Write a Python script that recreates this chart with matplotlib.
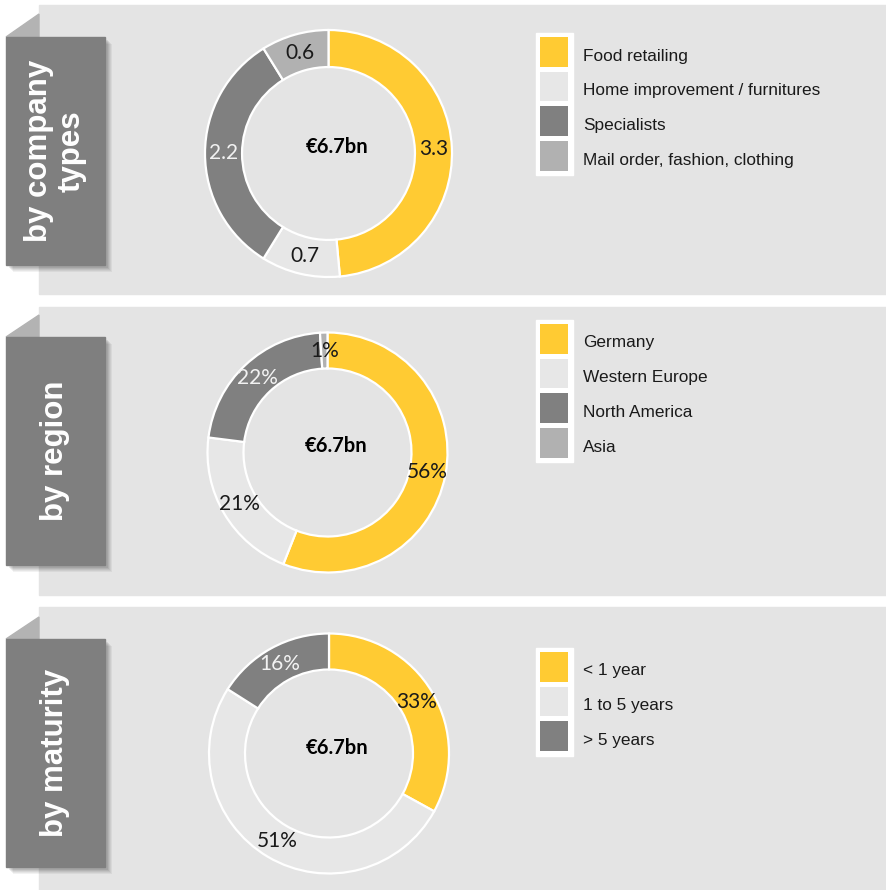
import numpy as np
import matplotlib.pyplot as plt
from matplotlib.patches import Rectangle, Polygon

# data
titles = ['by company\ntypes', 'by region', 'by maturity']
center_text = '€6.7bn'

company_labels = ['Food retailing', 'Home improvement / furnitures', 'Specialists', 'Mail order, fashion, clothing']
company_values = [3.3, 0.7, 2.2, 0.6]

region_labels = ['Germany', 'Western Europe', 'North America', 'Asia']
region_values = [56, 21, 22, 1]

maturity_labels = ['< 1 year', '1 to 5 years', '> 5 years']
maturity_values = [33, 51, 16]

YELLOW = '#FFCB33'
LIGHT = '#E7E7E7'
DARK = '#808080'
MID = '#B1B1B1'
BG = '#E4E4E4'
seg_colors = [YELLOW, LIGHT, DARK, MID]
txt_colors = ['#1a1a1a', '#1a1a1a', '#F2F2F2', '#1a1a1a']

W, H = 887, 890
fig = plt.figure(figsize=(W / 100, H / 100), dpi=100)
fig.patch.set_facecolor('white')
bg = fig.add_axes([0, 0, 1, 1])
bg.set_xlim(0, W)
bg.set_ylim(H, 0)
bg.axis('off')

# (panel top, panel bottom, box top, box bottom, fold top)
panels = [(5, 294, 37, 265, 14), (307, 595, 337, 565, 315), (607, 890, 639, 867, 617)]
donuts = [(328.5, 153.5, 123.5), (327.5, 452.5, 120), (329, 753.5, 120)]
legends = [(33, 4), (320, 4), (648, 3)]


def make_fmt(vals, pct):
    total = sum(vals)
    if pct:
        return lambda p: f'{p:.0f}%'
    return lambda p: f'{p * total / 100:.1f}'


datasets = [(company_labels, company_values, False),
            (region_labels, region_values, True),
            (maturity_labels, maturity_values, True)]

for i, (pt, pb, bt, bb, ft) in enumerate(panels):
    bg.add_patch(Rectangle((39, pt), W - 39, pb - pt, color=BG, zorder=0))
    # fold triangle
    bg.add_patch(Polygon([(6, bt), (39, ft), (39, bt)], closed=True, color='#B3B3B3', zorder=1))
    # soft shadow
    for k, a in enumerate([0.05, 0.05, 0.06, 0.07, 0.08]):
        off = 7 - k
        bg.add_patch(Rectangle((6 + off, bt + off), 99, bb - bt, color='black',
                               alpha=a, lw=0, zorder=1))
    bg.add_patch(Rectangle((6, bt), 99, bb - bt, color='#7F7F7F', zorder=2))
    bg.text(55.5, (bt + bb) / 2, titles[i], rotation=90, ha='center', va='center',
            color='white', fontsize=22.5, fontweight='bold', family='Liberation Sans',
            linespacing=1.1, zorder=3)

    labels, vals, pct = datasets[i]
    n = len(vals)
    # legend
    ly, nl = legends[i]
    step = 34.7
    bg.add_patch(Rectangle((536, ly), 37, step * nl + 3.5, color='white', zorder=1))
    for j in range(nl):
        y0 = ly + 4 + j * step
        bg.add_patch(Rectangle((540, y0), 28, 29.5, color=seg_colors[j], lw=0, zorder=2))
        bg.text(583, y0 + 19, labels[j], ha='left', va='center', fontsize=12.4,
                family='Liberation Sans', color='#1a1a1a', zorder=3)

    # donut
    cx, cy, R = donuts[i]
    pad = 1.05
    ax = fig.add_axes([(cx - R * pad) / W, (H - cy - R * pad) / H, 2 * R * pad / W, 2 * R * pad / H])
    ax.set_facecolor('none')
    wedges, texts, autotexts = ax.pie(vals, colors=seg_colors[:n], startangle=90, counterclock=False,
                                      radius=1, pctdistance=0.85, autopct=make_fmt(vals, pct),
                                      wedgeprops=dict(width=0.30, edgecolor='white', linewidth=1.6),
                                      textprops=dict(fontsize=15, family='Lato'))
    for j, t in enumerate(autotexts):
        t.set_color(txt_colors[j])
    ax.text(0.07, 0.05, center_text, ha='center', va='center', fontsize=14.5,
            fontweight='bold', family='Lato', color='black')
    ax.set_xlim(-pad, pad)
    ax.set_ylim(-pad, pad)
    ax.set_aspect('equal')
    ax.axis('off')

fig.savefig('out.png', dpi=100, facecolor='white')
